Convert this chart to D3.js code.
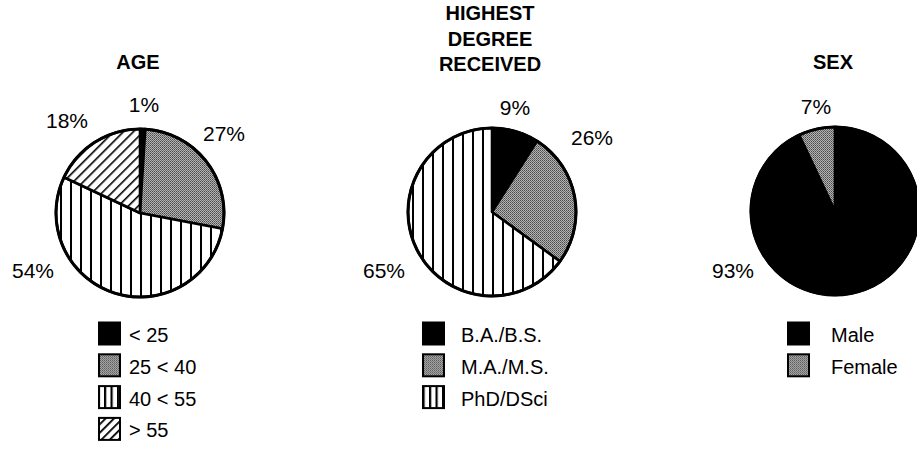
<html>
<head>
    <script src="https://d3js.org/d3.v7.min.js"></script>
    <style>
        body { margin: 0; background: #fff; }
        text { font-family: "Liberation Sans", Arial, sans-serif; fill: #000; }
    </style>
</head>
<body>
    <svg id="pies" width="917" height="461"></svg>

    <script>
        // data
        const ageCategories = ["< 25", "25 < 40", "40 < 55", "> 55"];
        const ageValues = [1, 27, 54, 18];
        const degreeCategories = ["B.A./B.S.", "M.A./M.S.", "PhD/DSci"];
        const degreeValues = [9, 26, 65];
        const sexCategories = ["Male", "Female"];
        const sexValues = [93, 7];

        const svg = d3.select('svg#pies');
        const defs = svg.append('defs');

        // halftone grey
        const grey = defs.append('pattern').attr('id', 'grey')
            .attr('patternUnits', 'userSpaceOnUse').attr('width', 2).attr('height', 2);
        grey.append('rect').attr('width', 2).attr('height', 2).attr('fill', '#b4b4b4');
        grey.append('rect').attr('width', 1).attr('height', 1).attr('fill', '#4a4a4a');
        grey.append('rect').attr('x', 1).attr('y', 1).attr('width', 1).attr('height', 1).attr('fill', '#6a6a6a');

        function stripes(id, gap, lw, rotate) {
            const p = defs.append('pattern').attr('id', id)
                .attr('patternUnits', 'userSpaceOnUse')
                .attr('width', gap).attr('height', gap);
            if (rotate) p.attr('patternTransform', `rotate(${rotate})`);
            p.append('rect').attr('width', gap).attr('height', gap).attr('fill', '#fff');
            p.append('rect').attr('width', lw).attr('height', gap).attr('fill', '#000');
        }
        stripes('vstripe', 10, 2, 0);
        stripes('vstripeSmall', 6.5, 2.2, 0);
        stripes('diag', 7, 1.6, 45);
        stripes('diagSmall', 6, 1.8, 45);

        const fills = {
            black: ['#000', '#000'],
            grey: ['url(#grey)', 'url(#grey)'],
            vstripe: ['url(#vstripe)', 'url(#vstripeSmall)'],
            diag: ['url(#diag)', 'url(#diagSmall)']
        };

        const radius = 84;
        const pie = d3.pie().sort(null).value(d => d.value);
        const arc = d3.arc().innerRadius(0).outerRadius(radius);

        const charts = [
            {
                title: ['AGE'], titleY: 62, cx: 140, cy: 213,
                cats: ageCategories, vals: ageValues,
                looks: ['black', 'grey', 'vstripe', 'diag'],
                labelOffsets: [[4, -109], [84, -80], [-107, 57], [-73, -93]],
                legendX: 98, textX: 129
            },
            {
                title: ['HIGHEST', 'DEGREE', 'RECEIVED'], titleY: 13, cx: 492, cy: 212,
                cats: degreeCategories, vals: degreeValues,
                looks: ['black', 'grey', 'vstripe'],
                labelOffsets: [[23, -105], [100, -75], [-108, 58]],
                legendX: 422, textX: 461
            },
            {
                title: ['SEX'], titleY: 62, cx: 835, cy: 211,
                cats: sexCategories, vals: sexValues,
                looks: ['black', 'grey'],
                labelOffsets: [[-102, 59], [-19, -105]],
                legendX: 787, textX: 831
            }
        ];

        const legendTop = 334;
        const legendStep = 31.8;
        const box = 23;

        charts.forEach(c => {
            const data = c.cats.map((cat, i) => ({ cat: cat, value: c.vals[i], look: c.looks[i], off: c.labelOffsets[i] }));

            // title
            svg.append('g').selectAll('text')
                .data(c.title).enter().append('text')
                .attr('x', c.cx - 2)
                .attr('y', (d, i) => c.titleY + i * 25.5)
                .attr('text-anchor', 'middle')
                .attr('dominant-baseline', 'central')
                .attr('font-size', '20px')
                .attr('font-weight', 'bold')
                .text(d => d);

            const g = svg.append('g').attr('transform', `translate(${c.cx}, ${c.cy})`);

            g.selectAll('path')
                .data(pie(data)).enter().append('path')
                .attr('d', arc)
                .attr('fill', d => fills[d.data.look][0])
                .attr('stroke', '#000')
                .attr('stroke-width', 2.6)
                .attr('stroke-linejoin', 'round');

            g.append('circle').attr('r', radius).attr('fill', 'none')
                .attr('stroke', '#000').attr('stroke-width', 3);

            g.selectAll('text.pct')
                .data(data).enter().append('text')
                .attr('class', 'pct')
                .attr('x', d => d.off[0])
                .attr('y', d => d.off[1])
                .attr('text-anchor', 'middle')
                .attr('dominant-baseline', 'central')
                .attr('font-size', '21px')
                .text(d => d.value + '%');

            // legend
            const lg = svg.append('g');
            const rows = lg.selectAll('g').data(data).enter().append('g')
                .attr('transform', (d, i) => `translate(0, ${legendTop + i * legendStep})`);
            rows.append('rect')
                .attr('x', c.legendX + 1)
                .attr('y', -box / 2)
                .attr('width', box - 2)
                .attr('height', box - 1)
                .attr('fill', d => fills[d.look][1])
                .attr('stroke', '#000')
                .attr('stroke-width', 2);
            rows.append('text')
                .attr('x', c.textX)
                .attr('y', 1)
                .attr('dominant-baseline', 'central')
                .attr('font-size', '20px')
                .text(d => d.cat);
        });
    </script>
</body>
</html>
